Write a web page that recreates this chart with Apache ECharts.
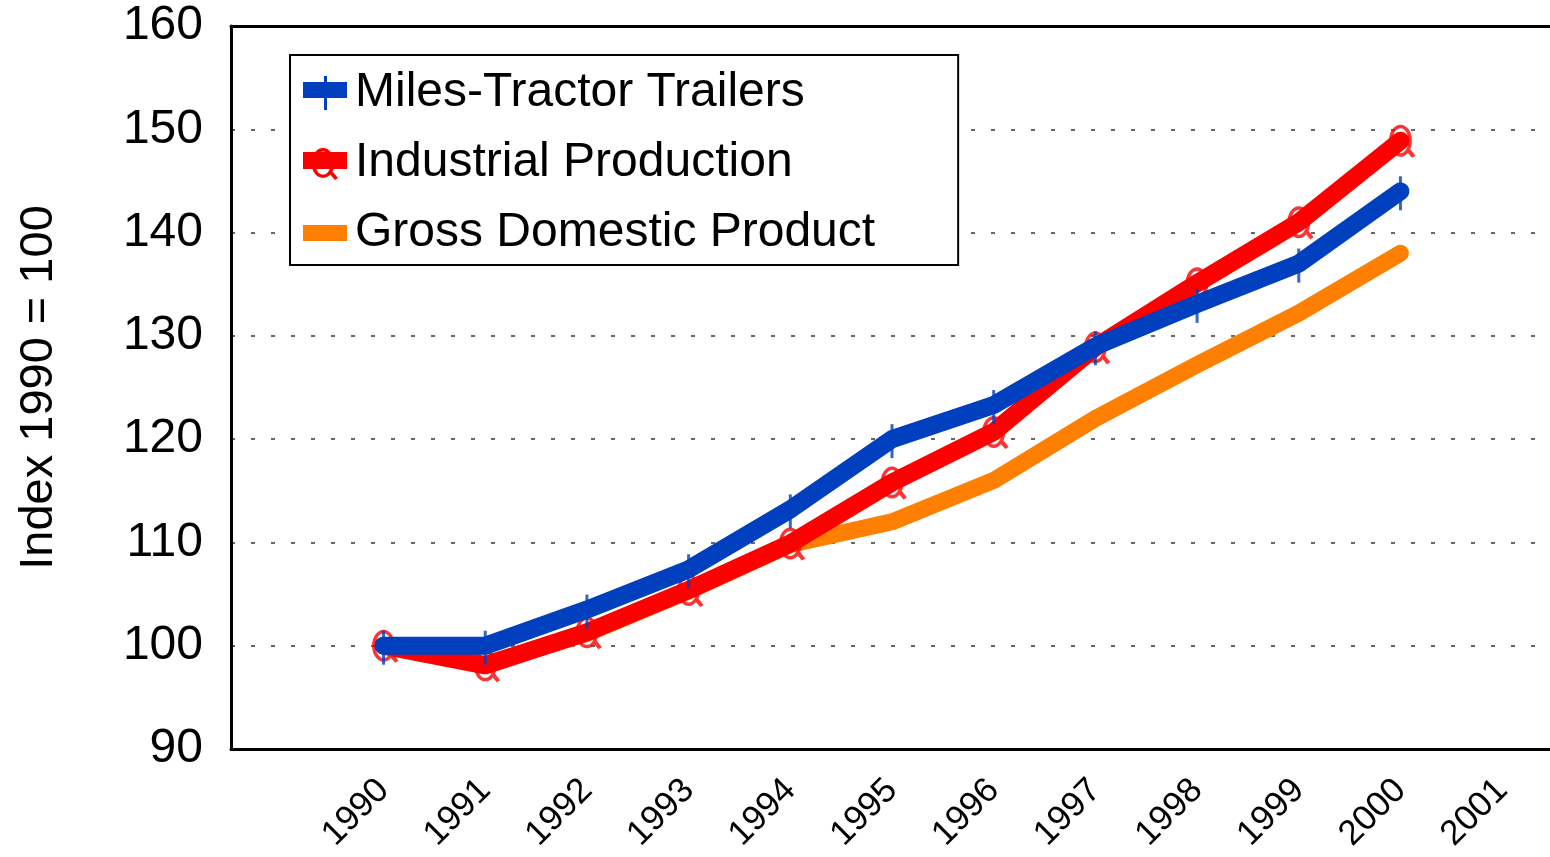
<!DOCTYPE html>
<html>
<head>
<meta charset="utf-8">
<script src="https://cdn.jsdelivr.net/npm/echarts@6/dist/echarts.min.js"></script>
<style>
  html, body { margin: 0; padding: 0; background: #fff; }
  #chart { width: 1550px; height: 857px; }
</style>
</head>
<body>
<div id="chart"></div>
<script>
// years on the x axis (a blank slot goes first, as in the original layout)
const years = ['1990', '1991', '1992', '1993', '1994', '1995', '1996', '1997', '1998', '1999', '2000', '2001'];

// index values, 1990 = 100
const milesTractorTrailers = [100, 100, 103.5, 107.4, 113.2, 120.0, 123.3, 129.0, 133.1, 137.0, 144.0];
const industrialProduction = [100, 98.1, 101.3, 105.4, 109.9, 115.8, 120.7, 128.9, 135.1, 141.0, 148.9];
const grossDomesticProduct = [100, 98.2, 101.2, 105.3, 109.8, 112.0, 116.0, 122.0, 127.2, 132.2, 138.0];

const yTicks = { min: 90, max: 160, interval: 10 };

const categories = [''].concat(years);
const pad = arr => [null].concat(arr);

const BLUE = '#0040BF';
const RED = '#FF0000';
const ORANGE = '#FF8000';

// open ring with a small tail, drawn under the red line
const ringPath = 'M0,16 A11.5,16 0 1,1 23,16 A11.5,16 0 1,1 0,16 Z ' +
  'M3.5,16 A8,12.5 0 1,0 19.5,16 A8,12.5 0 1,0 3.5,16 Z ' +
  'M17,26 L20.5,23.5 L26.5,31 L23,33 Z';

const iconBlue = 'path://M0,6H44V22H0Z M21,0H24V34H21Z';
const iconRed = 'path://M0,0H0.01V0.01H0Z M0,6H44V23H0Z ' +
  'M8.5,17 A11.5,15 0 1,1 31.5,17 A11.5,15 0 1,1 8.5,17 Z ' +
  'M12,17 A8,11.5 0 1,0 28,17 A8,11.5 0 1,0 12,17 Z ' +
  'M26,27 L29,25 L35,32 L32,34 Z';
const iconOrange = 'path://M0,0H0.01V0.01H0Z M0,9H44V25H0Z M43.99,33.99H44V34H43.99Z';

const font = 'Liberation Sans, Arial, sans-serif';
const frame = { show: true, lineStyle: { color: '#000', width: 3 } };

const chart = echarts.init(document.getElementById('chart'));

chart.setOption({
  animation: false,
  backgroundColor: '#fff',
  textStyle: { fontFamily: font, color: '#000' },
  grid: {
    left: 231,
    width: 1322,
    top: 26,
    bottom: 108,
    outerBoundsMode: 'none'
  },
  legend: {
    orient: 'vertical',
    left: 290,
    top: 55,
    padding: [14, 83, 8, 13],
    itemGap: 22,
    itemWidth: 44,
    itemHeight: 34,
    backgroundColor: '#fff',
    borderColor: '#000',
    borderWidth: 2,
    textStyle: { fontSize: 48, lineHeight: 48, color: '#000', fontFamily: font, padding: [0, 0, 0, 3] },
    data: [
      { name: 'Miles-Tractor Trailers', icon: iconBlue },
      { name: 'Industrial Production', icon: iconRed },
      { name: 'Gross Domestic Product', icon: iconOrange }
    ]
  },
  xAxis: [
    {
      type: 'category',
      data: categories,
      boundaryGap: true,
      axisLine: frame,
      axisTick: { show: false },
      axisLabel: {
        rotate: 45,
        margin: 36,
        fontSize: 35,
        color: '#000',
        fontFamily: font,
        interval: 0
      },
      splitLine: { show: false }
    },
    {
      type: 'category',
      position: 'top',
      data: categories,
      axisLine: frame,
      axisTick: { show: false },
      axisLabel: { show: false },
      splitLine: { show: false }
    }
  ],
  yAxis: {
    type: 'value',
    min: yTicks.min,
    max: yTicks.max,
    interval: yTicks.interval,
    name: 'Index 1990 = 100',
    nameLocation: 'middle',
    nameGap: 168,
    nameTextStyle: { fontSize: 47, color: '#000', fontFamily: font },
    axisLine: frame,
    axisTick: { show: false },
    axisLabel: { fontSize: 48, margin: 28, color: '#000', fontFamily: font },
    splitLine: {
      show: true,
      lineStyle: { color: '#333', width: 1.5, type: [4, 16] }
    }
  },
  series: [
    {
      name: 'Gross Domestic Product',
      type: 'line',
      z: 1,
      data: pad(grossDomesticProduct),
      showSymbol: false,
      symbol: 'none',
      color: ORANGE,
      lineStyle: { color: ORANGE, width: 17, cap: 'round', join: 'round' }
    },
    {
      name: 'ip-markers',
      type: 'scatter',
      z: 2,
      data: pad(industrialProduction),
      symbol: 'path://' + ringPath,
      symbolSize: [26.5, 33],
      symbolOffset: [1.75, 0.5],
      itemStyle: { color: RED },
      silent: true
    },
    {
      name: 'Industrial Production',
      type: 'line',
      z: 3,
      data: pad(industrialProduction),
      showSymbol: false,
      symbol: 'none',
      color: RED,
      lineStyle: { color: RED, width: 18, cap: 'round', join: 'round' }
    },
    {
      name: 'mtt-markers',
      type: 'scatter',
      z: 4,
      data: pad(milesTractorTrailers),
      symbol: 'rect',
      symbolSize: [3, 34],
      symbolOffset: [0, 2],
      itemStyle: { color: BLUE },
      silent: true
    },
    {
      name: 'Miles-Tractor Trailers',
      type: 'line',
      z: 5,
      data: pad(milesTractorTrailers),
      showSymbol: false,
      symbol: 'none',
      color: BLUE,
      lineStyle: { color: BLUE, width: 18, cap: 'round', join: 'round' }
    }
  ]
});

window.onresize = chart.resize;
</script>
</body>
</html>
